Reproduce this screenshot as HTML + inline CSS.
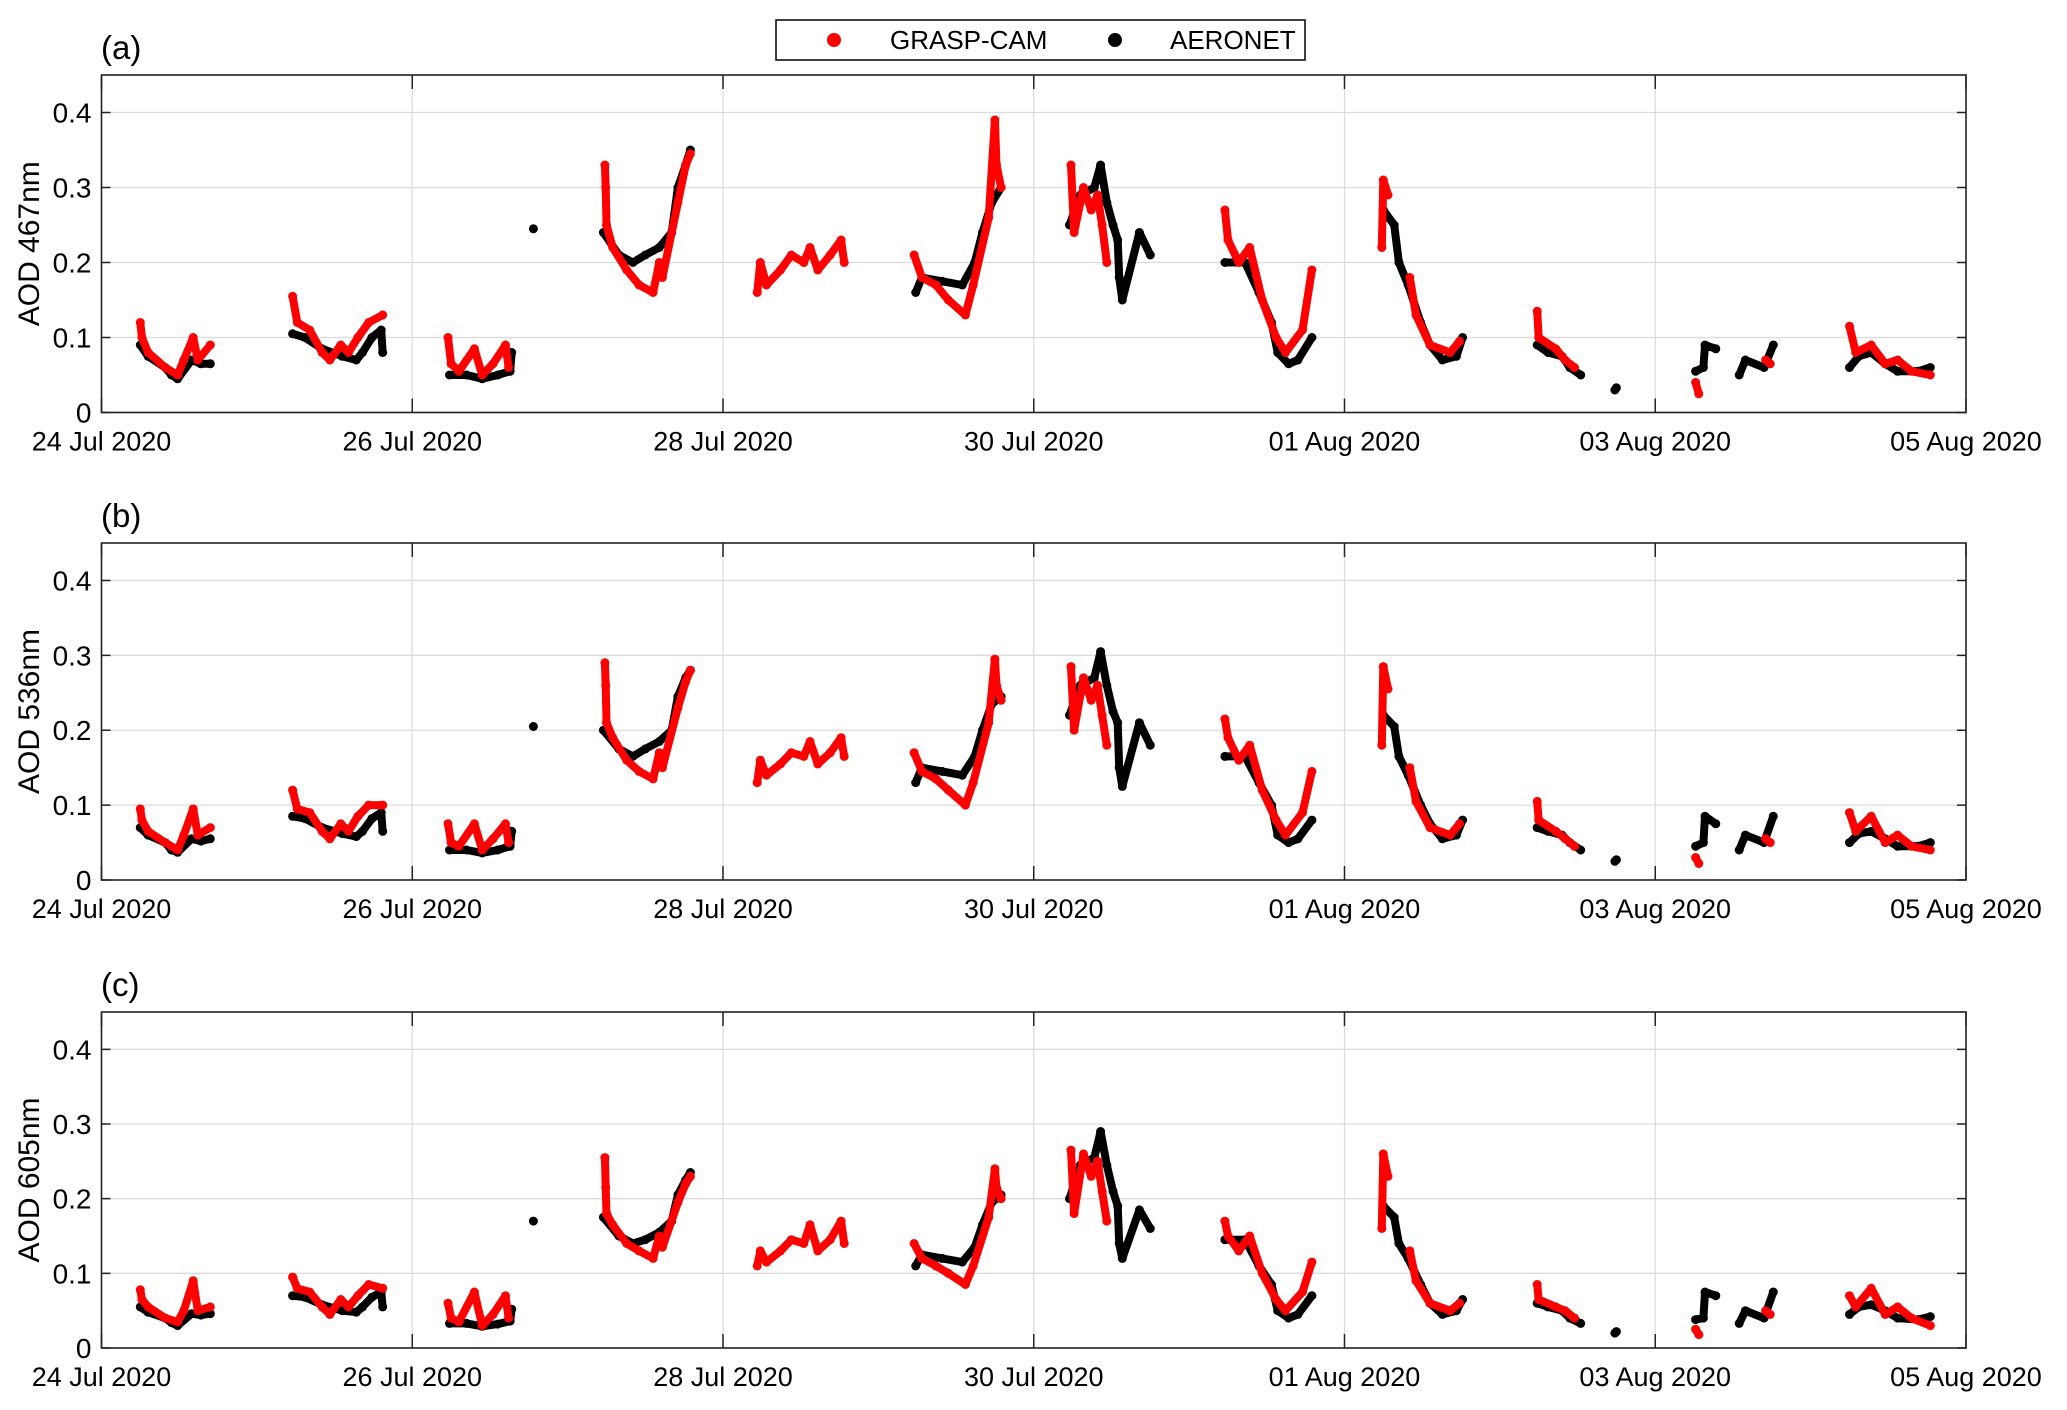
<!DOCTYPE html>
<html><head><meta charset="utf-8"><style>
html,body{margin:0;padding:0;background:#fff;}
svg{display:block;font-family:"Liberation Sans",Arial,sans-serif;}
</style></head><body>
<svg id="chart" width="2067" height="1410" viewBox="0 0 2067 1410">
<g>
<rect x="776" y="20" width="529" height="40" fill="#fff" stroke="#000" stroke-width="1.5"/>
<circle cx="834" cy="40" r="7" fill="#ff0000"/>
<text x="890" y="49" font-size="26">GRASP-CAM</text>
<circle cx="1115" cy="40" r="7" fill="#000"/>
<text x="1170" y="49" font-size="26">AERONET</text>
</g>
</svg>
<script>
const dateLabels = ["24 Jul 2020","26 Jul 2020","28 Jul 2020","30 Jul 2020","01 Aug 2020","03 Aug 2020","05 Aug 2020"];
const yTicks = [0,0.1,0.2,0.3,0.4];
const panelLetters = ["(a)","(b)","(c)"];
const panelTitles = ["AOD 467nm","AOD 536nm","AOD 605nm"];
const aeronetT = [0.25,0.30,0.41,0.45,0.49,0.58,0.64,0.70, 1.23,1.31,1.42,1.55,1.64,1.68,1.74,1.80,1.81, 2.24,2.35,2.45,2.55,2.63,2.64, 2.78, 3.23,3.33,3.42,3.50,3.59,3.67,3.71,3.76,3.79, 5.24,5.28,5.41,5.54,5.62,5.67,5.73,5.79, 6.23,6.30,6.39,6.43,6.47,6.51,6.54,6.55,6.57,6.68,6.75, 7.23,7.36,7.45,7.53,7.57,7.64,7.70,7.79, 8.25,8.32,8.35,8.41,8.49,8.55,8.63,8.72,8.76, 9.24,9.31,9.40,9.45,9.52,9.74,9.75, 10.26,10.31,10.32,10.39,10.54,10.58,10.70,10.76, 11.25,11.31,11.39,11.48,11.56,11.69,11.77];
const aeronetA = [0.09,0.075,0.06,0.05,0.045,0.07,0.065,0.065, 0.105,0.10,0.085,0.075,0.07,0.08,0.10,0.11,0.08, 0.05,0.05,0.045,0.05,0.055,0.08, 0.245, 0.24,0.21,0.20,0.21,0.22,0.24,0.30,0.33,0.35, 0.16,0.18,0.175,0.17,0.20,0.24,0.28,0.30, 0.25,0.29,0.30,0.33,0.28,0.25,0.23,0.18,0.15,0.24,0.21, 0.20,0.20,0.16,0.12,0.08,0.065,0.07,0.10, 0.27,0.25,0.20,0.17,0.12,0.09,0.07,0.075,0.10, 0.09,0.08,0.075,0.06,0.05,0.03,0.033, 0.055,0.06,0.09,0.085,0.05,0.07,0.06,0.09, 0.06,0.075,0.08,0.065,0.055,0.055,0.06];
const aeronetB = [0.07,0.06,0.05,0.04,0.037,0.055,0.052,0.055, 0.085,0.082,0.07,0.062,0.058,0.065,0.082,0.09,0.065, 0.04,0.04,0.036,0.04,0.045,0.065, 0.205, 0.20,0.175,0.165,0.175,0.185,0.20,0.245,0.27,0.28, 0.13,0.15,0.145,0.14,0.165,0.20,0.235,0.245, 0.22,0.26,0.27,0.305,0.26,0.225,0.21,0.15,0.125,0.21,0.18, 0.165,0.165,0.13,0.10,0.06,0.05,0.055,0.08, 0.22,0.205,0.165,0.14,0.10,0.075,0.055,0.06,0.08, 0.07,0.065,0.06,0.05,0.04,0.025,0.027, 0.045,0.05,0.085,0.075,0.04,0.06,0.05,0.085, 0.05,0.062,0.065,0.055,0.045,0.045,0.05];
const aeronetC = [0.055,0.048,0.04,0.034,0.03,0.046,0.044,0.046, 0.07,0.068,0.058,0.05,0.048,0.055,0.068,0.075,0.055, 0.033,0.033,0.029,0.032,0.036,0.052, 0.17, 0.175,0.15,0.14,0.145,0.155,0.17,0.205,0.225,0.235, 0.11,0.125,0.12,0.115,0.135,0.165,0.195,0.205, 0.2,0.245,0.255,0.29,0.245,0.21,0.19,0.14,0.12,0.185,0.16, 0.145,0.145,0.11,0.085,0.05,0.04,0.045,0.07, 0.19,0.175,0.14,0.12,0.085,0.06,0.045,0.05,0.065, 0.06,0.055,0.05,0.04,0.033,0.02,0.022, 0.038,0.04,0.075,0.07,0.033,0.05,0.04,0.075, 0.045,0.055,0.058,0.05,0.04,0.038,0.042];
const graspT = [0.25,0.26,0.30,0.41,0.49,0.53,0.59,0.62,0.70, 1.23,1.26,1.34,1.42,1.47,1.54,1.59,1.65,1.72,1.81, 2.23,2.25,2.30,2.40,2.45,2.52,2.60,2.62, 3.24,3.245,3.25,3.29,3.38,3.46,3.55,3.59,3.61,3.71,3.76,3.79, 4.22,4.24,4.28,4.37,4.44,4.52,4.56,4.61,4.69,4.76,4.78, 5.23,5.28,5.37,5.45,5.56,5.61,5.71,5.75,5.76,5.79, 6.24,6.26,6.32,6.37,6.41,6.44,6.47, 7.23,7.25,7.32,7.39,7.47,7.56,7.62,7.73,7.79, 8.24,8.25,8.28,8.42,8.46,8.55,8.68,8.74, 9.24,9.25,9.36,9.42,9.48, 10.26,10.28,10.71,10.74, 11.25,11.29,11.39,11.48,11.56,11.65,11.77];
const graspA = [0.12,0.10,0.08,0.06,0.05,0.07,0.10,0.07,0.09, 0.155,0.12,0.11,0.08,0.07,0.09,0.08,0.10,0.12,0.13, 0.10,0.065,0.055,0.085,0.05,0.065,0.09,0.06, 0.33,0.30,0.25,0.22,0.19,0.17,0.16,0.20,0.18,0.28,0.33,0.345, 0.16,0.20,0.17,0.19,0.21,0.20,0.22,0.19,0.21,0.23,0.20, 0.21,0.18,0.17,0.15,0.13,0.17,0.26,0.39,0.33,0.30, 0.33,0.24,0.30,0.27,0.29,0.25,0.20, 0.27,0.23,0.20,0.22,0.15,0.10,0.08,0.11,0.19, 0.22,0.31,0.29,0.18,0.13,0.09,0.08,0.095, 0.135,0.10,0.085,0.07,0.06, 0.04,0.025,0.07,0.065, 0.115,0.08,0.09,0.065,0.07,0.055,0.05];
const graspB = [0.095,0.08,0.065,0.05,0.04,0.06,0.095,0.06,0.07, 0.12,0.095,0.09,0.065,0.055,0.075,0.065,0.085,0.10,0.10, 0.075,0.05,0.045,0.075,0.04,0.055,0.075,0.05, 0.29,0.26,0.21,0.19,0.16,0.145,0.135,0.17,0.15,0.23,0.265,0.28, 0.13,0.16,0.14,0.155,0.17,0.165,0.185,0.155,0.17,0.19,0.165, 0.17,0.145,0.135,0.12,0.10,0.13,0.21,0.295,0.26,0.24, 0.285,0.20,0.27,0.24,0.26,0.22,0.18, 0.215,0.19,0.16,0.18,0.12,0.08,0.06,0.09,0.145, 0.18,0.285,0.255,0.15,0.105,0.07,0.06,0.075, 0.105,0.08,0.065,0.055,0.045, 0.03,0.022,0.055,0.05, 0.09,0.065,0.085,0.05,0.06,0.045,0.04];
const graspC = [0.078,0.065,0.055,0.04,0.035,0.05,0.09,0.05,0.055, 0.095,0.08,0.075,0.055,0.045,0.065,0.055,0.07,0.085,0.08, 0.06,0.04,0.035,0.075,0.03,0.045,0.07,0.04, 0.255,0.215,0.18,0.165,0.14,0.13,0.12,0.15,0.135,0.195,0.22,0.23, 0.11,0.13,0.115,0.13,0.145,0.14,0.165,0.13,0.145,0.17,0.14, 0.14,0.12,0.11,0.10,0.085,0.11,0.175,0.24,0.215,0.2, 0.265,0.18,0.26,0.23,0.25,0.21,0.17, 0.17,0.15,0.13,0.15,0.10,0.065,0.05,0.075,0.115, 0.16,0.26,0.23,0.13,0.09,0.06,0.05,0.06, 0.085,0.065,0.055,0.05,0.04, 0.025,0.018,0.05,0.045, 0.07,0.055,0.08,0.045,0.055,0.04,0.03];

const NS = "http://www.w3.org/2000/svg";
const svg = document.getElementById("chart");
const X0 = 101.5, X1 = 1966, DAYS = 12, YMAX = 0.45;
const panels = [{top:75,bot:412.5},{top:543,bot:880},{top:1012,bot:1348}];
const aeronetVals = [aeronetA, aeronetB, aeronetC];
const graspVals = [graspA, graspB, graspC];
function xScale(d){ return X0 + (X1 - X0) * d / DAYS; }
function mk(tag, attrs, parent){ const e = document.createElementNS(NS, tag); for (const k in attrs) e.setAttribute(k, attrs[k]); parent.appendChild(e); return e; }

function drawSeries(g, ts, vs, yScale, color, name){
  const sg = mk("g", {}, g);
  
  
  let d = "";
  for (let i = 0; i < ts.length; i++) {
    const x = xScale(ts[i]).toFixed(1), y = yScale(vs[i]).toFixed(1);
    if (i > 0 && ts[i] - ts[i-1] < 0.135) d += "L" + x + " " + y; else d += "M" + x + " " + y;
  }
  const p = mk("path", {d: d, fill: "none", stroke: color, "stroke-width": 8, "stroke-linecap": "round", "stroke-linejoin": "round"}, sg);
  
  
  for (let i = 0; i < ts.length; i++) {
    const c = mk("circle", {cx: xScale(ts[i]).toFixed(1), cy: yScale(vs[i]).toFixed(1), r: 4.5, fill: color}, sg);
    
    
  }
}

panels.forEach((P, pi) => {
  const yScale = v => P.bot - (P.bot - P.top) * v / YMAX;
  const g = mk("g", {}, svg);
  
  
  yTicks.forEach(t => {
    const y = yScale(t);
    if (t > 0) {
      const gl = mk("line", {x1: X0, x2: X1, y1: y, y2: y, stroke: "#dcdcdc", "stroke-width": 1.3}, g);
      
      
    }
    const tk = mk("path", {d: `M${X0} ${y}h9M${X1} ${y}h-9`, stroke: "#222", "stroke-width": 1.5}, g);
    
    
    const tl = mk("text", {x: X0 - 10, y: y + 10, "font-size": 28, "text-anchor": "end"}, g);
    
    
    tl.textContent = t === 0 ? "0" : t.toFixed(1);
  });
  dateLabels.forEach((lab, i) => {
    const x = xScale(i * 2);
    if (i > 0 && i < dateLabels.length - 1) {
      const gl = mk("line", {x1: x, x2: x, y1: P.top, y2: P.bot, stroke: "#dcdcdc", "stroke-width": 1.3}, g);
      
      
    }
    const tk = mk("path", {d: `M${x} ${P.bot}v-14M${x} ${P.top}v14`, stroke: "#222", "stroke-width": 1.5}, g);
    
    
    const tl = mk("text", {x: x, y: P.bot + 38, "font-size": 27, "text-anchor": "middle"}, g);
    
    
    tl.textContent = lab;
  });
  drawSeries(g, aeronetT, aeronetVals[pi], yScale, "#000", "aeronet");
  drawSeries(g, graspT, graspVals[pi], yScale, "#ff0000", "grasp-cam");
  const fr = mk("rect", {x: X0, y: P.top, width: X1 - X0, height: P.bot - P.top, fill: "none", stroke: "#222", "stroke-width": 1.6}, g);
  
  
  const pl = mk("text", {x: 101, y: P.top - 16, "font-size": 33}, g);
  
  
  pl.textContent = panelLetters[pi];
  const cy = (P.top + P.bot) / 2;
  const yt = mk("text", {x: 39, y: cy, "font-size": 30, "text-anchor": "middle", transform: `rotate(-90 39 ${cy})`}, g);
  
  
  yt.textContent = panelTitles[pi];
});
</script>
</body></html>
